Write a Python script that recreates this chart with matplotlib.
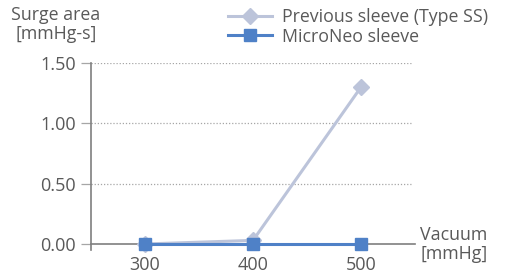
import matplotlib
matplotlib.use("Agg")
import matplotlib.pyplot as plt

plt.rcParams['font.family'] = ['Open Sans', 'DejaVu Sans']

# data
vacuum = ["300", "400", "500"]
previous_sleeve = [0.0, 0.03, 1.30]
microneo_sleeve = [0.0, 0.0, 0.0]
yticks = [0.0, 0.5, 1.0, 1.5]

text_col = '#595959'
fig = plt.figure(figsize=(5.07, 2.70), dpi=100)
ax = fig.add_axes([91 / 507, 1 - 244 / 270, 324 / 507, 181 / 270])

x = range(len(vacuum))
ax.plot(x, previous_sleeve, color='#bcc4da', lw=2.2, marker='D', ms=8,
        label='Previous sleeve (Type SS)', clip_on=False, zorder=3)
ax.plot(x, microneo_sleeve, color='#4f81c7', lw=2.2, marker='s', ms=8.5,
        label='MicroNeo sleeve', clip_on=False, zorder=4)

ax.set_xlim(-0.5, 2.5)
ax.set_ylim(0, 1.5)
ax.set_xticks(list(x))
ax.set_xticklabels(vacuum)
ax.set_yticks(yticks)
ax.set_yticklabels(['%.2f' % v for v in yticks])

for v in yticks[1:]:
    ax.axhline(v, xmax=0.99, color='#a6a6a6', lw=0.9, ls=(0, (1, 1.5)), zorder=1)

for s in ['top', 'right']:
    ax.spines[s].set_visible(False)
ax.spines['left'].set_color('#7f7f7f')
ax.spines['bottom'].set_color('#7f7f7f')
ax.spines['left'].set_bounds(-0.05, 1.5)
ax.spines['left'].set_linewidth(1.2)
ax.spines['bottom'].set_linewidth(1.2)

ax.tick_params(axis='y', length=7, color='#a6a6a6', width=0.9, colors=text_col,
               labelsize=13, pad=4)
ax.tick_params(axis='x', length=0, colors=text_col, labelsize=13, pad=9)

fig.text(56 / 507, 1 - 6 / 270, 'Surge area\n[mmHg-s]', ha='center', va='top',
         fontsize=12.8, color=text_col, linespacing=1.1)
fig.text(420 / 507, 1 - 226 / 270, 'Vacuum\n[mmHg]', ha='left', va='top',
         fontsize=12.8, color=text_col, linespacing=1.1)

leg = fig.legend(loc='upper left', bbox_to_anchor=(212 / 507, 1.03), frameon=False,
                 fontsize=12.8, handlelength=2.5, handletextpad=0.55,
                 labelspacing=0.1, labelcolor=text_col)

fig.savefig('out.png', dpi=100)
